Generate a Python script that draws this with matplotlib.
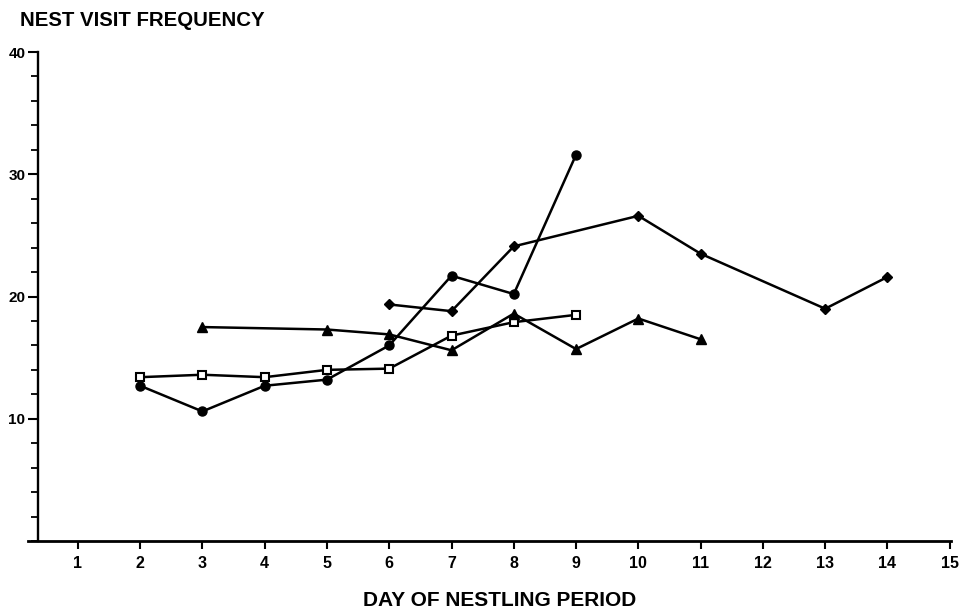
import matplotlib
matplotlib.use('Agg')
import matplotlib.pyplot as plt
from matplotlib.ticker import MultipleLocator

# nest visit frequency by day of nestling period, four nests
days_circle = [2, 3, 4, 5, 6, 7, 8, 9]
vals_circle = [12.7, 10.6, 12.7, 13.2, 16.0, 21.7, 20.2, 31.6]

days_square = [2, 3, 4, 5, 6, 7, 8, 9]
vals_square = [13.4, 13.6, 13.4, 14.0, 14.1, 16.8, 17.9, 18.5]

days_tri = [3, 5, 6, 7, 8, 9, 10, 11]
vals_tri = [17.5, 17.3, 16.9, 15.6, 18.6, 15.7, 18.2, 16.5]

days_diam = [6, 7, 8, 10, 11, 13, 14]
vals_diam = [19.35, 18.8, 24.1, 26.6, 23.5, 19.0, 21.6]

x_ticks = list(range(1, 16))
y_major = [10, 20, 30, 40]

plt.rcParams['font.family'] = ['Liberation Sans Narrow', 'Liberation Sans', 'DejaVu Sans']
plt.rcParams['font.weight'] = 'bold'

fig = plt.figure(figsize=(9.62, 6.11), dpi=100)
ax = fig.add_axes([28 / 962, 1 - 541 / 611, 923 / 962, (541 - 52) / 611])

lw = 1.8
ax.plot(days_circle, vals_circle, color='black', lw=lw, marker='o', ms=6.5,
        mfc='black', mec='black')
ax.plot(days_square, vals_square, color='black', lw=lw, marker='s', ms=5.5,
        mfc='white', mec='black', mew=1.5)
ax.plot(days_tri, vals_tri, color='black', lw=lw, marker='^', ms=6.5,
        mfc='black', mec='black')
ax.plot(days_diam, vals_diam, color='black', lw=lw, marker='D', ms=5,
        mfc='black', mec='black')

ax.set_xlim(0.2, 15.02)
ax.set_ylim(0, 40)
ax.spines['top'].set_visible(False)
ax.spines['right'].set_visible(False)
ax.spines['left'].set_position(('data', 0.36))
ax.spines['left'].set_linewidth(1.7)
ax.spines['bottom'].set_linewidth(2.0)

ax.set_xticks(x_ticks)
ax.set_xticklabels([str(d) for d in x_ticks], fontsize=11.5, fontweight='bold')
ax.set_yticks(y_major)
ax.set_yticklabels([str(v) for v in y_major], fontsize=11, fontweight='bold')
ax.yaxis.set_minor_locator(MultipleLocator(2))
ax.tick_params(axis='x', direction='out', length=6, width=1.5, pad=5)
ax.tick_params(axis='y', which='major', direction='out', length=7, width=1.5, pad=2)
ax.tick_params(axis='y', which='minor', direction='out', length=5, width=1.3)

fig.text(20 / 962, 1 - 20 / 611, 'NEST VISIT FREQUENCY', fontsize=14.7,
         fontweight='bold', ha='left', va='center')
fig.text(500 / 962, 1 - 600 / 611, 'DAY OF NESTLING PERIOD', fontsize=15,
         fontweight='bold', ha='center', va='center')

fig.savefig('out.png', dpi=100)
